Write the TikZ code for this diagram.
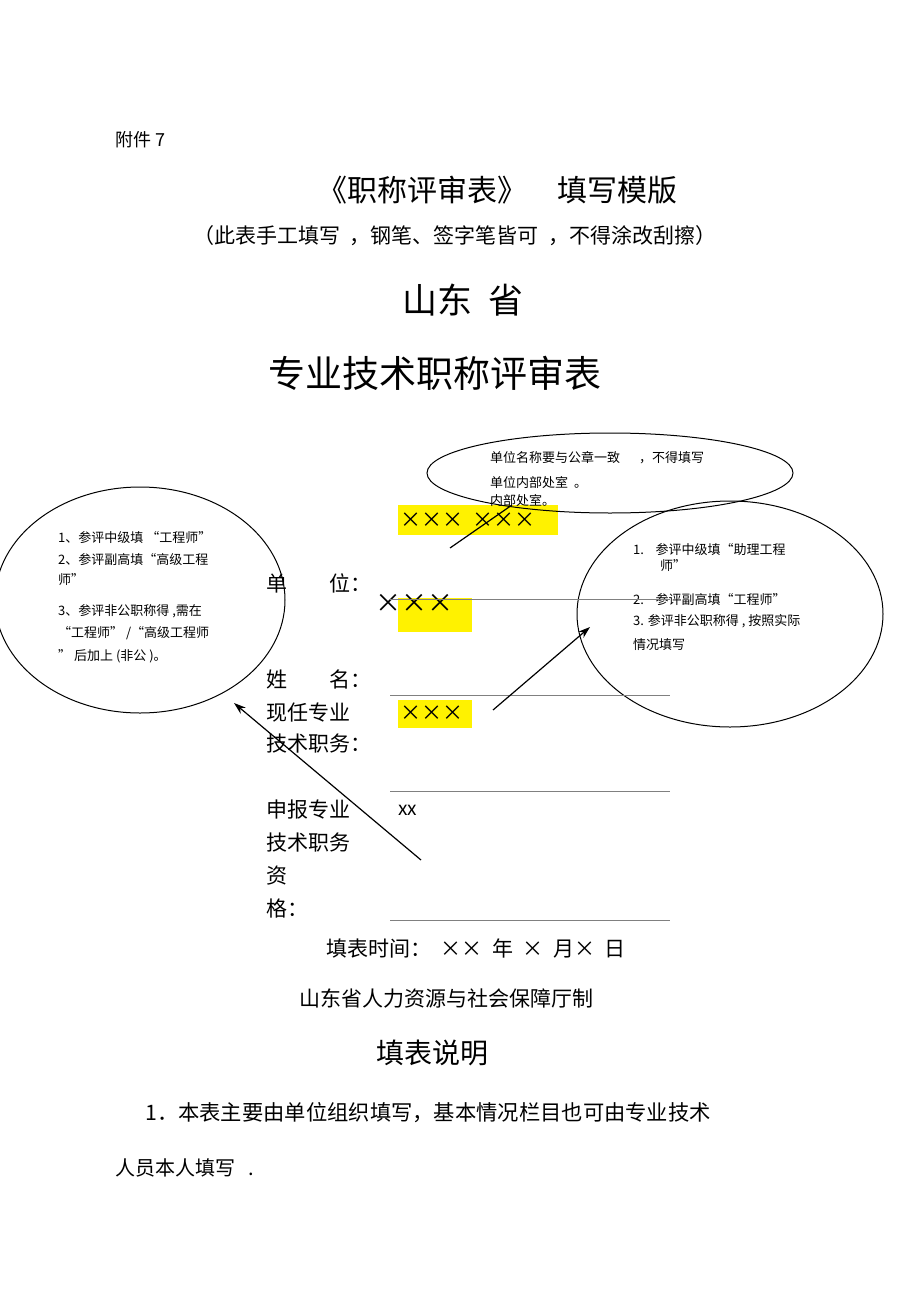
\documentclass[tikz,border=0pt]{standalone}
\usepackage{fontspec}
\setmainfont{Noto Sans CJK SC}
\usetikzlibrary{arrows.meta}
\tikzset{t/.style={anchor=west,inner sep=0pt,font=\fontsize{13}{13}\selectfont},
 lab/.style={anchor=west,inner sep=0pt,font=\fontsize{21}{21}\selectfont},
 ell/.style={draw,line width=1pt},
 fl/.style={draw=gray,line width=0.8pt},
 yb/.style={fill=yellow,draw=none},
 arr/.style={line width=1.2pt,-{Stealth[length=12pt,width=8pt]}}}
\begin{document}
\begin{tikzpicture}[x=1pt,y=-1pt]
\useasboundingbox (0,0) rectangle (920,1303);
\node[lab,font=\fontsize{18}{18}\selectfont] (fj) at (115,140) {附件 7};
\node[inner sep=0pt,font=\fontsize{30}{30}\selectfont] (title) at (497,190) {《职称评审表》\quad 填写模版};
\node[inner sep=0pt,font=\fontsize{21}{21}\selectfont] (sub) at (455,236) {（此表手工填写\ \ ，钢笔、签字笔皆可\ \ ，不得涂改刮擦）};
\node[inner sep=0pt,font=\fontsize{35}{35}\selectfont] (sd) at (463,300) {山东\ \ 省};
\node[inner sep=0pt,font=\fontsize{37}{37}\selectfont] (zy) at (435,373) {专业技术职称评审表};
% yellow boxes
\fill[yb] (398,505) rectangle (558,535);
\fill[yb] (398,598) rectangle (472,632);
\fill[yb] (398,700) rectangle (472,728);
\node[lab] (x1) at (400,520) {×××\ \ ×××};
\node[lab,font=\fontsize{26}{26}\selectfont] (x2) at (375,603) {×××};
\node[lab] (x3) at (400,713) {×××};
\node[lab,font=\fontsize{19}{19}\selectfont] (xx) at (398,810) {xx};
% ellipses
\draw[ell] (610,473) ellipse [x radius=183, y radius=40];
\draw[ell] (140,600) ellipse [x radius=145, y radius=113];
\draw[ell] (730,614) ellipse [x radius=153, y radius=113];
\node[t] (a1) at (490,458) {单位名称要与公章一致\quad\ \ ，不得填写};
\node[t] (a2) at (490,483) {单位内部处室\ \ 。};
\node[t] (a3) at (490,501) {内部处室。};
\node[t] (b1) at (58,538) {1、参评中级填 “工程师”};
\node[t] (b2) at (58,560) {2、参评副高填“高级工程};
\node[t] (b3) at (58,580) {师”};
\node[t] (b4) at (58,611) {3、参评非公职称得 ,需在};
\node[t] (b5) at (58,633) {“工程师” /“高级工程师};
\node[t] (b6) at (58,656) {” 后加上 (非公 )。};
\node[t] (c1) at (633,550) {1.\ \ \ \ 参评中级填“助理工程};
\node[t] (c2) at (660,566) {师”};
\node[t] (c3) at (633,600) {2.\ \ \ \ 参评副高填“工程师”};
\node[t] (c4) at (633,621) {3. 参评非公职称得 , 按照实际};
\node[t] (c5) at (633,645) {情况填写};
% labels
\node[lab] (l1) at (266,583) {单\qquad 位：};
\node[lab] (l2) at (266,679) {姓\qquad 名：};
\node[lab] (l3) at (266,713) {现任专业};
\node[lab] (l4) at (266,744) {技术职务：};
\node[lab] (l5) at (266,810) {申报专业};
\node[lab] (l6) at (266,843) {技术职务};
\node[lab] (l7) at (266,876) {资};
\node[lab] (l8) at (266,909) {格：};
\coordinate (f1a) at (390,599); \coordinate (f1b) at (670,599);
\coordinate (f2a) at (390,695); \coordinate (f2b) at (670,695);
\coordinate (f3a) at (390,791); \coordinate (f3b) at (670,791);
\coordinate (f4a) at (390,920); \coordinate (f4b) at (670,920);
\draw[fl] (f1a)--(f1b); \draw[fl] (f2a)--(f2b); \draw[fl] (f3a)--(f3b); \draw[fl] (f4a)--(f4b);
% arrows
\coordinate (p1) at (450,548); \coordinate (p2) at (512,505);
\draw[line width=1.2pt] (p1)--(p2);
\coordinate (q1) at (493,710); \coordinate (q2) at (590,627);
\draw[arr] (q1)--(q2);
\coordinate (r1) at (421,860); \coordinate (r2) at (234,703);
\draw[arr] (r1)--(r2);
\node[inner sep=0pt,font=\fontsize{21}{21}\selectfont] (time) at (476,948) {填表时间：\ \ ××\ \ 年\ \ ×\ \ 月×\ \ 日};
\node[inner sep=0pt,font=\fontsize{21}{21}\selectfont] (org) at (446,998) {山东省人力资源与社会保障厅制};
\node[inner sep=0pt,font=\fontsize{28}{28}\selectfont] (sm) at (432,1053) {填表说明};
\node[lab,font=\fontsize{21.3}{21}\selectfont] (n1) at (145,1113) {1．本表主要由单位组织填写，基本情况栏目也可由专业技术};
\node[lab,font=\fontsize{20}{20}\selectfont] (n2) at (115,1168) {人员本人填写\ \ \ .};
\end{tikzpicture}
\end{document}
